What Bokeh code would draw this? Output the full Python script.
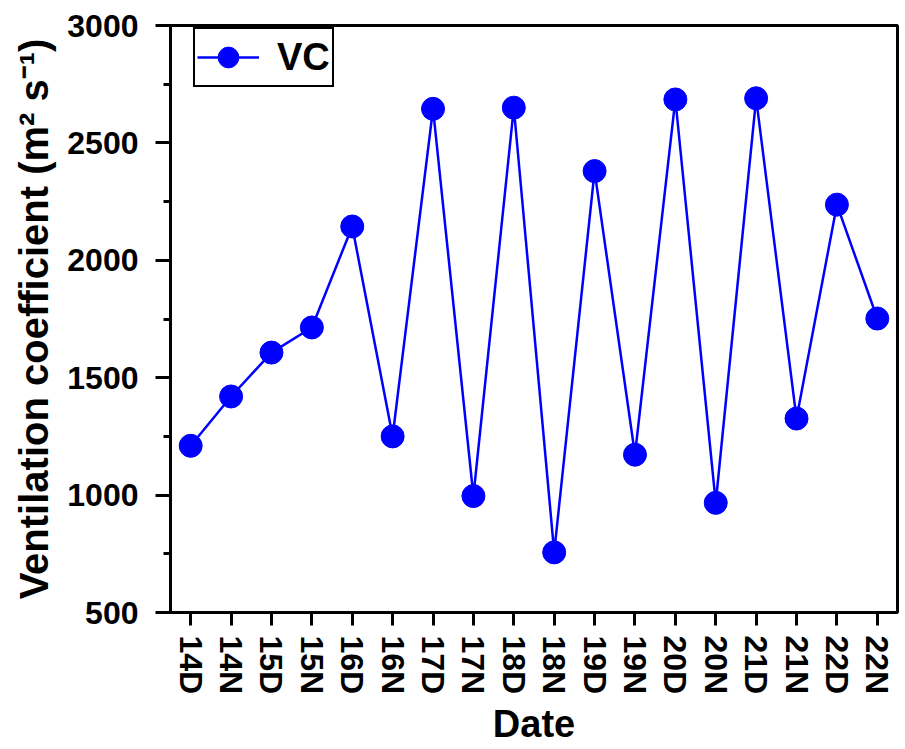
from bokeh.plotting import figure
from bokeh.models import FactorRange, Range1d, SingleIntervalTicker, Legend, LegendItem
from bokeh.embed import file_html
from bokeh.resources import INLINE
import math

dates = ["14D", "14N", "15D", "15N", "16D", "16N", "17D", "17N", "18D", "18N",
         "19D", "19N", "20D", "20N", "21D", "21N", "22D", "22N"]
vc = [1210, 1420, 1607, 1714, 2144, 1250, 2645, 996, 2650, 756,
      2380, 1172, 2685, 967, 2690, 1326, 2237, 1752]

FONT = "Liberation Sans"

p = figure(x_range=FactorRange(factors=dates), y_range=Range1d(500, 3000),
           width=904, height=748, output_backend="svg", toolbar_location=None,
           min_border_left=170, min_border_top=25, min_border_bottom=136, min_border_right=7)

ln = p.line(dates, vc, line_color="#0000FF", line_width=2.5)
sc = p.scatter(dates, vc, size=23, fill_color="#0000FF", line_color="#0000FF")

p.xgrid.visible = False
p.ygrid.visible = False
p.outline_line_color = "black"
p.outline_line_width = 3
p.outline_line_alpha = 1

for ax in (p.xaxis[0], p.yaxis[0]):
    ax.axis_line_width = 3
    ax.axis_line_color = "black"
    ax.major_tick_line_width = 3
    ax.major_tick_in = 0
    ax.major_label_text_font = FONT
    ax.major_label_text_font_style = "bold"
    ax.major_label_text_color = "black"
    ax.axis_label_text_font = FONT
    ax.axis_label_text_font_style = "bold"
    ax.axis_label_text_color = "black"

p.yaxis.ticker = SingleIntervalTicker(interval=500, num_minor_ticks=2)
p.yaxis.major_tick_out = 15
p.yaxis.minor_tick_out = 7
p.yaxis.minor_tick_in = 0
p.yaxis.minor_tick_line_width = 3
p.yaxis.major_label_text_font_size = "32px"
p.yaxis.major_label_standoff = 17
p.yaxis.axis_label = "Ventilation coefficient (m\u00b2 s\u207b\u00b9)"
p.yaxis.axis_label_text_font_size = "40px"
p.yaxis.axis_label_standoff = 8

p.xaxis.major_tick_out = 13
p.xaxis.major_label_orientation = -math.pi / 2
p.xaxis.major_label_text_font_size = "32px"
p.xaxis.major_label_standoff = 10
p.xaxis.axis_label = "Date"
p.xaxis.axis_label_text_font_size = "38px"
p.xaxis.axis_label_standoff = 6

legend = Legend(items=[LegendItem(label="VC", renderers=[ln, sc])],
                location=(23, 525))
legend.border_line_color = "black"
legend.border_line_width = 2
legend.border_line_alpha = 1
legend.background_fill_color = "white"
legend.background_fill_alpha = 1
legend.label_text_font = FONT
legend.label_text_font_style = "bold"
legend.label_text_font_size = "38px"
legend.label_text_color = "black"
legend.glyph_width = 62
legend.glyph_height = 52
legend.label_standoff = 18
legend.padding = 2
legend.margin = 0
legend.spacing = 0
p.add_layout(legend, "center")

open("out.html", "w").write(file_html(p, INLINE))
